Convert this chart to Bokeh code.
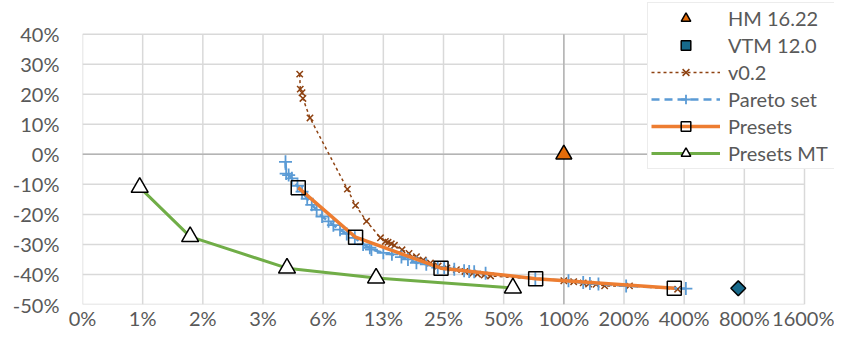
import numpy as np
from bokeh.plotting import figure
from bokeh.models import (Range1d, FixedTicker, CustomJSTickFormatter, NumeralTickFormatter,
                          Legend, LegendItem)
from bokeh.embed import file_html
from bokeh.resources import INLINE

# ---- data (x = relative encoding time, y = BD-rate) ----
hm_x = [1.0]
hm_y = [0.0]

vtm_x = [7.46]
vtm_y = [-0.446]

v02_x = [0.0477, 0.0480, 0.0490, 0.0495, 0.0537, 0.0826, 0.0908, 0.103, 0.121, 0.128, 0.132,
         0.137, 0.142, 0.155, 0.168, 0.183, 0.198, 0.215, 0.235, 0.26, 0.29, 0.32, 0.35, 0.37,
         0.40, 0.43, 1.0, 1.12, 1.25, 1.33, 1.45, 1.6, 2.13, 3.71]
v02_y = [0.267, 0.217, 0.205, 0.186, 0.121, -0.116, -0.170, -0.223, -0.278, -0.290, -0.293,
         -0.298, -0.303, -0.318, -0.330, -0.341, -0.352, -0.362, -0.372, -0.378, -0.384, -0.390,
         -0.396, -0.399, -0.402, -0.405, -0.421, -0.424, -0.428, -0.432, -0.433, -0.438, -0.438,
         -0.449]

pareto_x = [0.0405, 0.0408, 0.042, 0.0436, 0.0465, 0.049, 0.052, 0.0548, 0.058, 0.0617, 0.0665,
            0.0703, 0.0759, 0.082, 0.090, 0.099, 0.107, 0.109, 0.125, 0.138, 0.154, 0.166, 0.183,
            0.205, 0.234, 0.252, 0.283, 0.317, 0.336, 0.356, 0.406, 0.72, 1.055, 1.25, 1.35,
            1.49, 2.05, 4.08]
pareto_y = [-0.025, -0.064, -0.069, -0.080, -0.105, -0.124, -0.148, -0.168, -0.185, -0.207, -0.223,
            -0.236, -0.251, -0.265, -0.278, -0.300, -0.311, -0.317, -0.328, -0.333, -0.342, -0.350,
            -0.361, -0.366, -0.377, -0.377, -0.383, -0.388, -0.390, -0.391, -0.396, -0.414, -0.421,
            -0.427, -0.430, -0.432, -0.438, -0.447]

presets_x = [0.0469, 0.0908, 0.243, 0.723, 3.57]
presets_y = [-0.111, -0.276, -0.379, -0.414, -0.446]

mt_x = [0.00755, 0.0135, 0.0412, 0.115, 0.556]
mt_y = [-0.110, -0.274, -0.379, -0.412, -0.445]

x_ticks = [2.0 ** k for k in range(-8, 5)]
y_ticks = [-0.5, -0.4, -0.3, -0.2, -0.1, 0.0, 0.1, 0.2, 0.3, 0.4]

# ---- layout (pixels) ----
W, H = 834, 332
LEFT, BOTTOM, TOP = 82, 25, 0
DATA_W, DATA_H = 722, 273           # area spanned by the tick range
DATA_TOP = 34                       # where the top tick sits
frame_w = W - LEFT
frame_h = H - BOTTOM - TOP
px_per_oct = DATA_W / (len(x_ticks) - 1)
x_end = x_ticks[-1] * 2 ** ((frame_w - DATA_W) / px_per_oct)
px_per_unit = DATA_H / (y_ticks[-1] - y_ticks[0])
y_end = y_ticks[-1] + (frame_h - DATA_H) / px_per_unit

FONT = "Lato"
TXT = "#595959"
GRID = "#d9d9d9"
AXC = "#b4b4b4"

p = figure(width=W, height=H, x_axis_type="log",
           x_range=Range1d(x_ticks[0], x_end), y_range=Range1d(y_ticks[0], y_end),
           output_backend="svg", toolbar_location=None,
           min_border_left=LEFT, min_border_right=0, min_border_top=TOP, min_border_bottom=BOTTOM)
p.background_fill_color = "white"
p.border_fill_color = "white"
p.outline_line_color = None
p.grid.visible = False

p.xaxis.ticker = FixedTicker(ticks=x_ticks)
p.xaxis.formatter = CustomJSTickFormatter(code="return Math.round(tick*100) + '%';")
p.yaxis.ticker = FixedTicker(ticks=y_ticks)
p.yaxis.formatter = NumeralTickFormatter(format="0%")

for ax in (p.xaxis[0], p.yaxis[0]):
    ax.axis_line_color = None
    ax.major_tick_line_color = None
    ax.minor_tick_line_color = None
    ax.major_tick_out = 0
    ax.major_tick_in = 0
    ax.minor_tick_out = 0
    ax.minor_tick_in = 0
    ax.major_label_text_font = FONT
    ax.major_label_text_font_size = "20px"
    ax.major_label_text_color = TXT
p.yaxis.major_label_standoff = 23
p.xaxis.major_label_standoff = 1

# gridlines bounded to the tick span
nx, ny = len(x_ticks), len(y_ticks)
p.segment(x0=x_ticks, x1=x_ticks, y0=[y_ticks[0]] * nx, y1=[y_ticks[-1]] * nx,
          line_color=GRID, line_width=1.5, level="underlay")
p.segment(x0=[x_ticks[0]] * ny, x1=[x_ticks[-1]] * ny, y0=y_ticks, y1=y_ticks,
          line_color=GRID, line_width=1.5, level="underlay")
# axis-crossing lines (y = 0 and x = 100%)
p.segment(x0=[x_ticks[0]], x1=[x_ticks[-1]], y0=[0.0], y1=[0.0],
          line_color=AXC, line_width=1.5, level="underlay")
p.segment(x0=[1.0], x1=[1.0], y0=[y_ticks[0]], y1=[y_ticks[-1]],
          line_color=AXC, line_width=1.5, level="underlay")

# ---- series ----
r_hm = p.scatter(hm_x, hm_y, marker="triangle", size=16, fill_color="#E46C0A",
                 line_color="black", line_width=1.5)
r_vtm = p.scatter(vtm_x, vtm_y, marker="square", angle=np.pi / 4, size=10.5,
                  fill_color="#17698A", line_color="black", line_width=1.5)

BROWN = "#8E4211"
r_v02_l = p.line(v02_x, v02_y, line_color=BROWN, line_width=1.5, line_dash="3 3")
r_v02_m = p.scatter(v02_x, v02_y, marker="x", size=9, line_color=BROWN, line_width=1.5)

BLUE = "#5B9BD5"
r_par_l = p.line(pareto_x, pareto_y, line_color=BLUE, line_width=2.5, line_dash="8 5")
r_par_m = p.scatter(pareto_x, pareto_y, marker="cross", size=13, line_color=BLUE, line_width=1.8)

ORANGE = "#ED7D31"
r_pre_l = p.line(presets_x, presets_y, line_color=ORANGE, line_width=3.5)
r_pre_m = p.scatter(presets_x, presets_y, marker="square", size=14, fill_color=None,
                    line_color="black", line_width=1.5)

GREEN = "#70AD47"
r_mt_l = p.line(mt_x, mt_y, line_color=GREEN, line_width=3)
r_mt_m = p.scatter(mt_x, mt_y, marker="triangle", size=17, fill_color="white",
                   line_color="black", line_width=1.5)

legend = Legend(items=[
    LegendItem(label="HM 16.22", renderers=[r_hm]),
    LegendItem(label="VTM 12.0", renderers=[r_vtm]),
    LegendItem(label="v0.2", renderers=[r_v02_l, r_v02_m]),
    LegendItem(label="Pareto set", renderers=[r_par_l, r_par_m]),
    LegendItem(label="Presets", renderers=[r_pre_l, r_pre_m]),
    LegendItem(label="Presets MT", renderers=[r_mt_l, r_mt_m]),
], location=(565, 135))
legend.label_text_font = FONT
legend.label_text_font_size = "20px"
legend.label_text_color = TXT
legend.glyph_width = 69
legend.glyph_height = 24
legend.label_height = 24
legend.label_width = 130
legend.label_standoff = 8
legend.spacing = 3
legend.padding = 3
legend.margin = 0
legend.border_line_color = GRID
legend.border_line_width = 1.5
legend.background_fill_color = "white"
legend.background_fill_alpha = 1.0
p.add_layout(legend, "center")

open("out.html", "w").write(file_html(p, INLINE))
